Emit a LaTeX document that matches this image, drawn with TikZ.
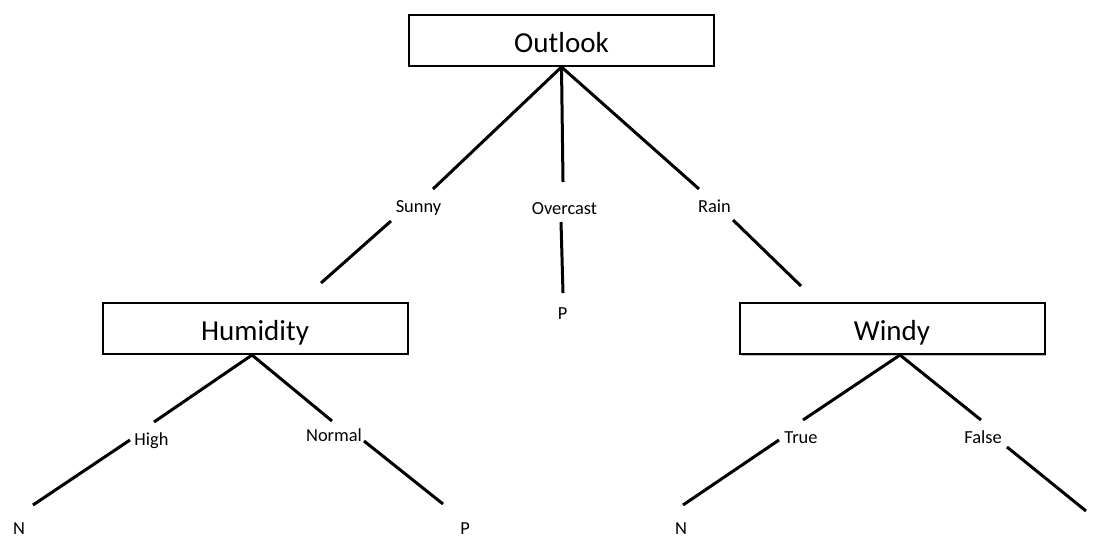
\documentclass[tikz,border=0pt]{standalone}
\usepackage{fontspec}
\setmainfont{Carlito}
\usetikzlibrary{shadows}

\begin{document}
\begin{tikzpicture}[x=0.5pt, y=-0.5pt]
    % Define styles
    \tikzstyle{attribute} = [rectangle, draw, line width=1pt, fill=white, minimum width=152.5pt, minimum height=25.5pt, font=\fontsize{14.5}{17}\selectfont, text height=11.8pt, text depth=0pt]
    \tikzstyle{value} = [inner sep=0pt, font=\fontsize{9.2}{11}\selectfont, text height=5.8pt, text depth=0pt]
    \tikzstyle{leaf} = [value]
    \tikzstyle{branch} = [line width=1.5pt]

    \useasboundingbox (0,0) rectangle (1096,536);

    % Attributes
    \node[attribute] (outlook) at (561.5,40.5) {Outlook};
    \node[attribute] (humidity) at (255,328.5) {Humidity};
    \node[attribute, drop shadow={shadow xshift=0.8pt, shadow yshift=-0.8pt, fill=black!40, opacity=.6}] (windy) at (892,328.5) {Windy};

    % Values on the branches
    \node[value] (sunny) at (418.5,207) {Sunny};
    \node[value] (overcast) at (564.5,209) {Overcast};
    \node[value] (rain) at (714.5,206.5) {Rain};
    \node[value] (high) at (151.5,440) {High};
    \node[value] (normal) at (334,436) {Normal};
    \node[value] (true) at (801,438) {True};
    \node[value] (false) at (983,438) {False};

    % Leaves
    \node[leaf] (p1) at (562.5,314) {P};
    \node[leaf] (n1) at (19,528.5) {N};
    \node[leaf] (p2) at (465,528.5) {P};
    \node[leaf] (n2) at (681,528.5) {N};
    \node[leaf] (p3) at (1099.5,528.5) {P};

    % Branch break points
    \coordinate (sunny-a) at (433,189);
    \coordinate (sunny-b) at (391,221);
    \coordinate (sunny-c) at (321,283);
    \coordinate (overcast-a) at (563,182);
    \coordinate (overcast-b) at (561,222);
    \coordinate (overcast-c) at (563,293);
    \coordinate (rain-a) at (699,189);
    \coordinate (rain-b) at (733,220);
    \coordinate (rain-c) at (801,286);
    \coordinate (high-a) at (154,422);
    \coordinate (high-b) at (130,440);
    \coordinate (high-c) at (33,505);
    \coordinate (normal-a) at (332,421);
    \coordinate (normal-b) at (364,441);
    \coordinate (normal-c) at (443,504);
    \coordinate (true-a) at (803,420);
    \coordinate (true-b) at (779,440);
    \coordinate (true-c) at (683,505);
    \coordinate (false-a) at (981,420);
    \coordinate (false-b) at (1007,447);
    \coordinate (false-c) at (1086,511);

    % Branches
    \draw[branch] (outlook.south) -- (sunny-a);
    \draw[branch] (sunny-b) -- (sunny-c);
    \draw[branch] (outlook.south) -- (overcast-a);
    \draw[branch] (overcast-b) -- (overcast-c);
    \draw[branch] (outlook.south) -- (rain-a);
    \draw[branch] (rain-b) -- (rain-c);
    \draw[branch] ([xshift=-1.5pt]humidity.south) -- (high-a);
    \draw[branch] (high-b) -- (high-c);
    \draw[branch] ([xshift=-1.5pt]humidity.south) -- (normal-a);
    \draw[branch] (normal-b) -- (normal-c);
    \draw[branch] ([xshift=4pt]windy.south) -- (true-a);
    \draw[branch] (true-b) -- (true-c);
    \draw[branch] ([xshift=4pt]windy.south) -- (false-a);
    \draw[branch] (false-b) -- (false-c);
\end{tikzpicture}
\end{document}
